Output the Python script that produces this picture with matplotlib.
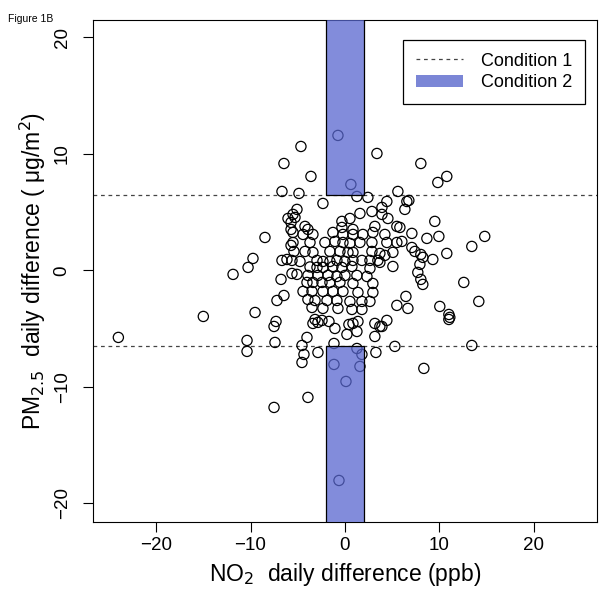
import matplotlib
matplotlib.use("Agg")
import matplotlib.pyplot as plt
from matplotlib.patches import Rectangle, Patch
from matplotlib.lines import Line2D

plt.rcParams['font.family'] = ['Liberation Sans', 'DejaVu Sans']

# NO2 daily difference (ppb) and PM2.5 daily difference (ug/m2)
no2 = [-24.0, -15.0, -11.85, -10.26, -9.74, -8.47, -5.71, -5.71, -5.40, -6.67,
       -6.14, -6.77, -5.61, -5.08, -6.46, -7.20, -9.52, -7.30, -7.51, -10.37,
       -10.37, -7.41, -4.55, -4.34, -4.55, -3.92, -7.51, -4.02, -3.39, -2.86,
       -1.69, -1.06, 0.42, 0.85, 0.21, 1.27, 3.17, 3.70, 3.17, -2.86,
       -1.16, 1.27, 1.80, 3.28, 5.29, -1.16, 1.59, 0.11, -0.63, 11.01,
       13.44, 8.36, -4.66, -0.74, 3.39, -3.60, 0.63, -4.87, -2.33, 1.27,
       2.43, 5.61, 4.44, 6.56, -5.08, 3.92, 2.86, 1.59, 0.53, -0.32,
       3.92, 4.55, 6.35, -5.50, -5.29, -4.23, -3.92, -0.32, 0.85, 3.17,
       5.50, -6.46, -6.67, -6.03, -5.71, 8.04, 10.79, 9.84, 6.77, 9.52,
       7.09, 5.82, 8.68, 9.95, 14.81, 4.23, 4.44, 5.50, 6.03, 5.08,
       4.23, 3.70, 5.08, 13.44, 7.09, 7.41, 8.04, 8.25, 9.31, 10.79,
       7.94, 7.72, 8.04, 8.25, 12.59, 6.46, 5.50, 6.67, 10.05, 14.18,
       11.01, 11.11, 3.92,
       -5.50, -4.44, -3.39, -1.27, -0.21, 0.85, 1.90, 2.96,
       -5.50, -3.70, -2.12, -1.06, -0.21, 0.53, 1.59, 2.86,
       -4.23, -3.39, -1.59, -0.53, 0.32, 0.85, 2.86, 3.70,
       -5.61, -4.76, -2.96, -2.33, -1.59, -0.85, 0.00, 0.85, 1.80, 2.65, 3.49,
       -3.70, -2.96, -2.33, -1.27, -0.32, 0.74, 2.65,
       -3.92, -2.86, -1.80, -0.85, 0.00, 1.27, 2.33,
       -4.02, -3.39, -2.43, -1.59, -0.53, 0.85, 2.96,
       -4.44, -3.49, -2.33, -1.27, -0.21, 1.38, 2.96,
       -3.92, -3.17, -1.90, -0.85, 0.53, 1.80, 2.65,
       -3.49, -2.33, -0.74, 0.74, 1.80,
       -3.17, -2.43, 1.38, 4.44]
pm25 = [-5.75, -3.95, -0.34, 0.26, 1.03, 2.83, 3.52, 2.15, 1.63, 0.86,
        0.94, -0.77, -0.26, -0.34, -2.15, -2.58, -3.61, -4.38, -4.81, -6.01,
        -6.95, -6.18, -6.44, -7.21, -7.90, -10.90, -11.76, -5.75, -4.55, -4.46,
        -4.38, -4.98, -4.64, -4.55, -5.49, -5.24, -4.55, -4.81, -5.67, -7.04,
        -6.27, -6.70, -7.21, -7.04, -6.52, -8.07, -8.24, -9.53, -18.03, -4.21,
        -6.44, -8.41, 10.64, 11.59, 10.04, 8.07, 7.38, 6.61, 5.75, 6.35,
        6.27, 6.78, 5.92, 5.92, 5.24, 5.41, 5.06, 4.89, 4.46, 4.21,
        4.81, 4.46, 5.24, 4.81, 4.55, 3.78, 3.52, 3.69, 3.52, 3.78,
        3.78, 9.18, 6.78, 4.46, 4.12, 9.18, 8.07, 7.55, 6.01, 4.21,
        3.18, 3.69, 2.75, 2.92, 2.92, 3.09, 2.40, 2.40, 2.49, 1.55,
        1.29, 0.69, 0.34, 2.06, 1.97, 1.63, 1.37, 1.12, 0.94, 1.46,
        0.52, -0.17, -0.77, -1.20, -1.03, -2.23, -3.00, -3.26, -3.09, -2.66,
        -3.78, -4.03, -4.81,
        3.26, 3.09, 3.09, 3.26, 3.09, 3.09, 3.09, 3.26,
        2.40, 2.40, 2.40, 2.49, 2.40, 2.32, 2.40, 2.40,
        1.63, 1.55, 1.63, 1.63, 1.55, 1.55, 1.63, 1.46,
        0.86, 0.77, 0.86, 0.77, 0.77, 0.86, 0.77, 0.86, 0.86, 0.86, 0.86,
        0.30, 0.26, 0.26, 0.34, 0.26, 0.34, 0.17,
        -0.43, -0.43, -0.43, -0.52, -0.43, -0.43, -0.52,
        -1.03, -1.03, -1.03, -1.03, -1.03, -1.12, -1.12,
        -1.80, -1.80, -1.80, -1.80, -1.80, -1.89, -1.89,
        -2.49, -2.58, -2.58, -2.58, -2.66, -2.66, -2.66,
        -3.18, -3.26, -3.26, -3.35, -3.35,
        -4.21, -4.29, -4.38, -4.29]

band_x = 2.0      # half width of the Condition 2 band (ppb)
thresh = 6.5      # Condition 1 threshold

fig = plt.figure(figsize=(6.07, 5.98), dpi=100)
ax = fig.add_axes([0.153, 0.127, 0.8305, 0.8396])

ax.scatter(no2, pm25, s=54, facecolors='none', edgecolors='black', linewidths=0.9, zorder=2)

blue = '#5866cf'
for y0, y1 in [(thresh, 30), (-30, -thresh)]:
    ax.add_patch(Rectangle((-band_x, y0), 2 * band_x, y1 - y0, facecolor=blue, alpha=0.75,
                           edgecolor='none', zorder=3))
    ax.add_patch(Rectangle((-band_x, y0), 2 * band_x, y1 - y0, facecolor='none',
                           edgecolor='black', linewidth=0.9, zorder=4))

ax.axhline(thresh, color='#444444', linestyle=(0, (3, 3)), linewidth=0.9, zorder=1)
ax.axhline(-thresh, color='#444444', linestyle=(0, (3, 3)), linewidth=0.9, zorder=1)

ax.set_xlim(-26.7, 26.7)
ax.set_ylim(-21.6, 21.5)
ax.set_xticks([-20, -10, 0, 10, 20])
ax.set_yticks([-20, -10, 0, 10, 20])
ax.tick_params(labelsize=13.5, length=7, width=0.8)
ax.tick_params(axis='y', pad=9)
for lab in ax.get_yticklabels():
    lab.set_rotation(90)
    lab.set_va('center')

ax.set_xlabel('NO$_2$  daily difference (ppb)', fontsize=16.5, labelpad=5)
ax.set_ylabel('PM$_{2.5}$  daily difference ( μg/m$^2$)', fontsize=16.5, labelpad=4)

handles = [Line2D([0], [0], color='#444444', linestyle=(0, (3, 3)), linewidth=0.9),
           Patch(facecolor='#7b86d6', edgecolor='none')]
leg = ax.legend(handles, ['Condition 1', 'Condition 2'], loc='upper right',
                bbox_to_anchor=(0.976, 0.96), fontsize=13, fancybox=False,
                edgecolor='black', framealpha=1, handlelength=2.6, handletextpad=1.0,
                borderpad=0.7, labelspacing=0.25, borderaxespad=0)
leg.get_frame().set_linewidth(0.9)

fig.text(0.013, 0.963, 'Figure 1B', fontsize=7.5)

fig.savefig('out.png', dpi=100)
